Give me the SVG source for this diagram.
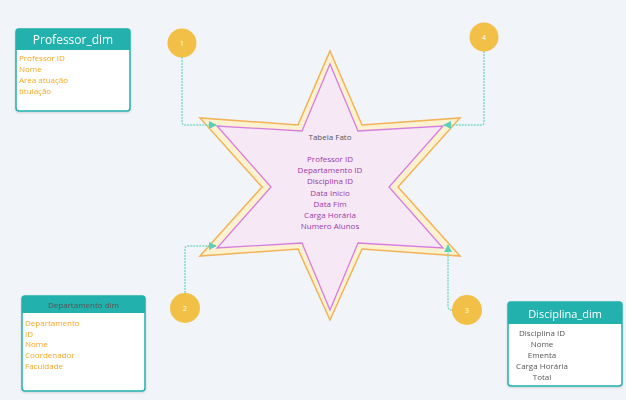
<svg xmlns="http://www.w3.org/2000/svg" width="626" height="400" viewBox="0 0 626 400">
<defs>
<marker id="arr" viewBox="0 0 10 10" refX="9" refY="5" markerWidth="8" markerHeight="8" orient="auto" markerUnits="userSpaceOnUse">
<path d="M0,0 L10,5 L0,10 z" fill="#5ccfb6"/>
</marker>
<filter id="sh" x="-10%" y="-10%" width="120%" height="130%">
<feDropShadow dx="0" dy="1" stdDeviation="1" flood-color="#000" flood-opacity="0.15"/>
</filter>
</defs>
<style>
text{font-family:"Open Sans","Liberation Sans",sans-serif}
.box{fill:#fff;stroke:#22b1ad;stroke-width:1.5}
.hdr{fill:#22b1ad}
.or{fill:#f5a623;font-size:8px}
.gr{fill:#555;font-size:8px}
.pu{fill:#9b3aa6;font-size:8px}
.circ{fill:#f2c046}
.num{fill:#fff;font-size:7px;text-anchor:middle}
.con{fill:none;stroke:#7ed9c8;stroke-width:1.5;stroke-dasharray:2 1}
</style>
<rect width="626" height="400" fill="#f1f4f9"/>

<g id="fato">
<polygon points="330,51 362,125 460,118 398,187 460,256 362,249 330,320 298,249 200,256 262,187 200,118 298,125" fill="#fcf2cf" stroke="#f1b25a" stroke-width="1.5" stroke-linejoin="miter"/>
<polygon points="330,64 358,131 443,126 389,187 443,248 358,243 330,310 302,243 217,248 271,187 217,126 302,131" fill="#f7e8f5" stroke="#d67de0" stroke-width="1.3"/>
<text x="330" y="140" text-anchor="middle" class="gr">Tabela Fato</text>
<text x="330" y="162" text-anchor="middle" class="pu">Professor ID</text>
<text x="330" y="173" text-anchor="middle" class="pu">Departamento ID</text>
<text x="330" y="184" text-anchor="middle" class="pu">Disciplina ID</text>
<text x="330" y="196" text-anchor="middle" class="pu">Data Inicio</text>
<text x="330" y="207" text-anchor="middle" class="pu">Data Fim</text>
<text x="330" y="218" text-anchor="middle" class="pu">Carga Horária</text>
<text x="330" y="229" text-anchor="middle" class="pu">Numero Alunos</text>
</g>

<g id="connectors">
<path class="con" d="M182,57 V122 Q182,125 185,125 H216" marker-end="url(#arr)"/>
<path class="con" d="M484,51 V122 Q484,125 481,125 H444" marker-end="url(#arr)"/>
<path class="con" d="M185,293 V249 Q185,246 188,246 H216" marker-end="url(#arr)"/>
<path class="con" d="M452,310 Q448,310 448,306 V245" marker-end="url(#arr)"/>
</g>

<g id="c1"><circle class="circ" cx="182" cy="43" r="14.5"/><text x="182" y="46" class="num">1</text></g>
<g id="c4"><circle class="circ" cx="484" cy="37" r="14.5"/><text x="484" y="40" class="num">4</text></g>
<g id="c2"><circle class="circ" cx="185" cy="308" r="15"/><text x="185" y="311" class="num">2</text></g>
<g id="c3"><circle class="circ" cx="467" cy="310" r="15"/><text x="467" y="313" class="num">3</text></g>

<g id="professor_dim" filter="url(#sh)">
<rect class="box" x="16" y="29" width="114" height="82" rx="3"/>
<path class="hdr" d="M16,32 Q16,29 19,29 H127 Q130,29 130,32 V50 H16 Z"/>
<text x="73" y="44" text-anchor="middle" fill="#fff" font-size="12">Professor_dim</text>
<text x="19" y="61" class="or">Professor ID</text>
<text x="19" y="72" class="or">Nome</text>
<text x="19" y="83" class="or">Area atuação</text>
<text x="19" y="94" class="or">titulação</text>
</g>

<g id="departamento_dim" filter="url(#sh)">
<rect class="box" x="22" y="296" width="123" height="95" rx="3"/>
<path class="hdr" d="M22,299 Q22,296 25,296 H142 Q145,296 145,299 V313 H22 Z"/>
<text x="83.5" y="308" text-anchor="middle" class="gr" fill="#444">Departamento dim</text>
<text x="25" y="326" class="or">Departamento</text>
<text x="25" y="337" class="or">ID</text>
<text x="25" y="347" class="or">Nome</text>
<text x="25" y="358" class="or">Coordenador</text>
<text x="25" y="369" class="or">Faculdade</text>
</g>

<g id="disciplina_dim" filter="url(#sh)">
<rect class="box" x="508" y="302" width="114" height="84" rx="3"/>
<path class="hdr" d="M508,305 Q508,302 511,302 H619 Q622,302 622,305 V324 H508 Z"/>
<text x="565" y="318" text-anchor="middle" fill="#fff" font-size="11">Disciplina_dim</text>
<text x="542" y="336" text-anchor="middle" class="gr">Disciplina ID</text>
<text x="542" y="347" text-anchor="middle" class="gr">Nome</text>
<text x="542" y="358" text-anchor="middle" class="gr">Ementa</text>
<text x="542" y="369" text-anchor="middle" class="gr">Carga Horária</text>
<text x="542" y="380" text-anchor="middle" class="gr">Total</text>
</g>
</svg>
